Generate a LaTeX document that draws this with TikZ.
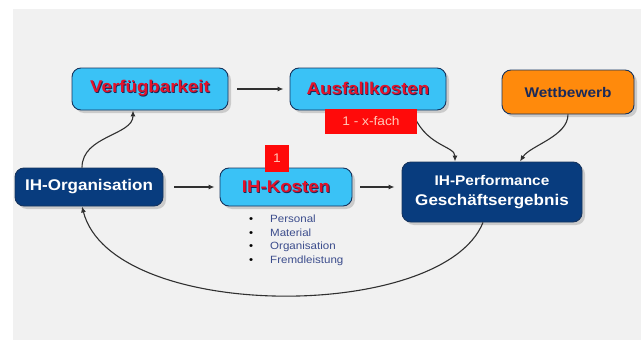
\documentclass[tikz,border=0pt]{standalone}
\usepackage{fontspec}
\setmainfont[FakeStretch=1.1]{Liberation Sans}
\usepackage{tikz}
\usetikzlibrary{arrows.meta,shadows}
\definecolor{canvas}{HTML}{F1F1F1}
\definecolor{skyfill}{HTML}{3AC2F6}
\definecolor{navyfill}{HTML}{083C7E}
\definecolor{edgeblue}{HTML}{16345E}
\definecolor{orangefill}{HTML}{FF8A0C}
\definecolor{labelred}{HTML}{E3122A}
\definecolor{inkblue}{HTML}{1A2A5A}
\definecolor{tagred}{HTML}{FF0A0A}
\definecolor{tagtext}{HTML}{FFC9B8}
\definecolor{listblue}{HTML}{3B4C8C}
\definecolor{linkgray}{HTML}{303030}
\newcommand{\shadowed}[2]{\makebox[0pt][l]{\hspace{0.9pt}\raisebox{-0.9pt}{\textcolor{inkblue}{#2}}}\textcolor{#1}{#2}}
\newcommand{\listitem}[1]{\makebox[21pt][l]{\textcolor{black}{\textbullet}}#1}

\begin{document}
\begin{tikzpicture}[x=1pt,y=-1pt,
 box/.style={draw=edgeblue,line width=0.9pt,rounded corners=9pt,minimum height=40pt,inner sep=2pt,
   drop shadow={shadow xshift=3pt,shadow yshift=-3pt,fill=black!30,opacity=0.6}},
 lightbox/.style={box,fill=skyfill,font=\fontsize{17}{19}\selectfont\bfseries},
 darkbox/.style={box,fill=navyfill,text=white,font=\bfseries},
 tag/.style={fill=tagred,text=tagtext,minimum height=25pt,inner sep=1pt,font=\fontsize{12.5}{14}\selectfont},
 link/.style={draw=linkgray,line width=1.1pt,-{Latex[length=6pt,width=5pt]}},
 gap/.style={shorten <=9pt,shorten >=6pt},
]
\useasboundingbox (0,0) rectangle (641,340);
\fill[canvas] (13,9) rectangle (641,340);

% upper row
\node[lightbox,minimum width=156pt,minimum height=42pt] (verf) at (150,89) {\shadowed{labelred}{Verfügbarkeit}};
\node[lightbox,minimum width=156pt,minimum height=42pt] (ausf) at (368,89) {\shadowed{labelred}{Ausfallkosten}};
\node[box,fill=orangefill,minimum width=132pt,minimum height=44pt,text=inkblue,font=\fontsize{14}{16}\selectfont\bfseries] (wett) at (568,92) {Wettbewerb};

% middle row
\node[darkbox,minimum width=148pt,minimum height=38pt,font=\fontsize{15.5}{17}\selectfont\bfseries] (org) at (89,187) {IH-Organisation};
\node[lightbox,minimum width=132pt,minimum height=38pt] (kost) at (286,187) {\shadowed{labelred}{IH-Kosten}};
\node[darkbox,minimum width=180pt,minimum height=60pt,align=center,font=\fontsize{15.5}{20}\selectfont\bfseries] (perf) at (492,192)
  {{\fontsize{14}{20}\selectfont IH-Performance}\\Geschäftsergebnis};

% cost items
\node[anchor=north west,align=left,inner sep=0pt,text=listblue,font=\fontsize{10.5}{13.5}\selectfont] (items) at (249,215)
  {\listitem{Personal}\\\listitem{Material}\\\listitem{Organisation}\\\listitem{Fremdleistung}};

% connectors
\draw[link,gap] (verf.east) -- (ausf.west);
\draw[link,shorten <=11pt,shorten >=5pt] (org.east) -- (kost.west);
\draw[link,shorten <=8pt,shorten >=7pt] (kost.east) -- (kost.east -| perf.west);
\draw[link] ([xshift=-7pt]org.north) .. controls +(0,-32) and +(0,25) .. ([xshift=-17pt]verf.south);
\draw[link] ([xshift=44pt]ausf.south) .. controls +(12,36) and +(0,-16) .. ([xshift=-37pt]perf.north);
\draw[link] (wett.south) .. controls +(0,22) and +(10,-16) .. ([xshift=28pt]perf.north);
\draw[link] ([xshift=-9pt]perf.south) .. controls +(-40,100) and +(30,116) .. ([xshift=-7pt]org.south);

% factor tags
\node[tag,minimum width=92pt] (fach) at (371,121) {1 - x-fach};
\node[tag,minimum width=24pt,minimum height=27pt] (eins) at (277,158) {1};
\end{tikzpicture}
\end{document}
